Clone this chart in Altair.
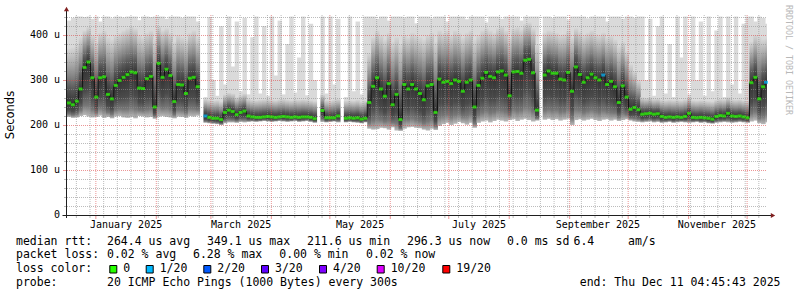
import altair as alt
import pandas as pd

# ---------------- data ----------------
END = pd.Timestamp("2025-12-11T04:45:43", tz="UTC")
START = END - pd.Timedelta(days=359)
BIN = pd.Timedelta(days=2)

median = [
    249, 245, 253, 280, 328, 340, 305, 262, 305, 307,
    268, 258, 288, 299, 306, 312, 318, 316, 282, 281,
    303, 308, 240, 337, 306, 324, 310, 252, 290, 289,
    270, 304, 306, 285, None, 220, 217, 215, 215, 212,
    228, 233, 230, 223, 228, 231, 220, 218, 217, 217,
    218, 219, 218, 217, 218, 219, 218, 217, 218, 217,
    218, 218, 217, 214, None, 232, 216, 216, 216, 220,
    None, 215, 216, 215, 216, 213, 215, 250, 286, 305,
    280, 264, 292, 245, 268, 212, 290, 280, 290, 280,
    270, 256, 287, 290, 228, 302, 295, 297, 292, 300,
    297, 275, 295, 300, 240, 288, 304, 317, 308, 305,
    318, 320, 311, 265, 318, 319, 315, 344, 346, 316,
    233, None, 311, 320, 315, 315, 302, 300, 317, 275,
    329, 312, 295, 305, 313, 305, 300, 311, 290, 297,
    285, 250, 287, 262, 235, 239, 234, 224, 225, 226,
    224, 225, 219, 217, 218, 217, 218, 217, 219, 226,
    217, 216, 217, 216, 215, 213, 219, 221, 220, 226,
    220, 219, 220, 218, 216, 294, 306, 258, 285, 295,
]
smoke_bottom = [
    218, 216, 217, 220, 222, 219, 217, 218, 221, 216,
    218, 215, 219, 220, 217, 216, 218, 215, 220, 219,
    217, 218, 214, 219, 220, 218, 217, 215, 219, 218,
    216, 220, 219, 221, None, 205, 204, 203, 202, 200,
    204, 206, 206, 205, 207, 206, 207, 208, 207, 208,
    209, 208, 207, 208, 209, 208, 207, 208, 209, 207,
    208, 209, 207, 205, None, 207, 206, 207, 208, 206,
    None, 206, 207, 206, 205, 204, 206, 192, 190, 191,
    194, 193, 190, 195, 188, 187, 192, 195, 196, 194,
    193, 190, 188, 192, 189, 198, 202, 205, 200, 203,
    207, 204, 201, 205, 194, 205, 208, 210, 206, 209,
    212, 210, 208, 211, 213, 209, 212, 214, 211, 208,
    210, None, 212, 214, 211, 213, 210, 212, 214, 200,
    211, 213, 210, 212, 214, 211, 209, 212, 213, 210,
    212, 209, 211, 213, 210, 208, 207, 206, 207, 208,
    206, 207, 205, 206, 207, 205, 206, 207, 206, 205,
    206, 207, 205, 206, 204, 203, 205, 206, 207, 206,
    205, 206, 207, 206, 205, 208, 210, 204, 202, 206,
]
smoke_mid = [
    370, 372, 380, 395, 410, 418, 400, 385, 405, 410,
    395, 390, 400, 405, 410, 415, 420, 415, 400, 395,
    405, 410, 390, 420, 410, 415, 405, 385, 400, 395,
    390, 405, 410, 395, None, 258, 256, 254, 255, 252,
    268, 272, 270, 262, 266, 270, 258, 256, 255, 256,
    257, 258, 256, 255, 257, 258, 256, 255, 257, 256,
    257, 256, 255, 253, None, 268, 255, 254, 256, 258,
    None, 254, 255, 254, 256, 252, 255, 360, 395, 410,
    400, 390, 405, 385, 395, 380, 400, 395, 405, 400,
    395, 390, 400, 405, 385, 410, 405, 410, 400, 410,
    405, 395, 405, 410, 390, 400, 410, 415, 410, 405,
    415, 420, 410, 395, 415, 418, 412, 425, 428, 415,
    380, None, 405, 410, 408, 405, 400, 402, 410, 395,
    415, 408, 400, 405, 410, 402, 400, 405, 395, 398,
    390, 375, 385, 365, 335, 320, 300, 262, 260, 262,
    258, 259, 256, 255, 256, 255, 256, 255, 257, 262,
    255, 254, 255, 254, 253, 252, 256, 258, 257, 262,
    257, 256, 257, 255, 254, 385, 400, 395, 390, 392,
]
smoke_top = [
    432, 438, 441, 441, 440, 441, 436, 441, 430, 441,
    441, 437, 441, 441, 439, 441, 441, 441, 433, 441,
    441, 440, 441, 441, 441, 436, 441, 441, 441, 438,
    441, 441, 441, 430, None, 262, 440, 300, 265, 420,
    290, 441, 330, 430, 275, 438, 268, 395, 441, 270,
    420, 265, 441, 310, 432, 268, 380, 441, 272, 350,
    441, 266, 425, 300, None, 441, 270, 441, 290, 436,
    None, 262, 441, 275, 430, 268, 441, 441, 441, 436,
    441, 441, 432, 441, 441, 441, 438, 441, 441, 426,
    441, 441, 441, 437, 441, 441, 441, 430, 441, 441,
    441, 441, 435, 441, 441, 441, 441, 428, 441, 441,
    441, 436, 441, 441, 441, 441, 432, 441, 441, 441,
    441, None, 441, 441, 438, 441, 441, 441, 433, 441,
    441, 441, 441, 437, 441, 441, 441, 441, 430, 441,
    441, 441, 436, 441, 441, 438, 441, 441, 300, 436,
    265, 420, 441, 270, 380, 262, 441, 350, 441, 268,
    441, 300, 430, 265, 441, 275, 410, 441, 262, 441,
    290, 441, 270, 425, 441, 441, 430, 441, 438, 425,
]
loss_of_bin = {35: "1/20", 137: "1/20", 179: "1/20"}

y_tick_values = [0, 100, 200, 300, 400]
y_tick_labels = ["0", "100 u", "200 u", "300 u", "400 u"]

month_labels = ["January 2025", "March 2025", "May 2025",
                "July 2025", "September 2025", "November 2025"]
month_label_dates = ["2025-01-16T12:00:00", "2025-03-16T12:00:00", "2025-05-16T12:00:00",
                     "2025-07-16T12:00:00", "2025-09-15T12:00:00", "2025-11-15T12:00:00"]

loss_labels = ["0", "1/20", "2/20", "3/20", "4/20", "10/20", "19/20"]
loss_colors = ["#26ff00", "#00b8ff", "#0059ff", "#5e00ff", "#7e00ff", "#dd00ff", "#ff0000"]

stats_rtt = ["median rtt:", "264.4 us avg", "349.1 us max", "211.6 us min",
             "296.3 us now", "0.0 ms sd", "6.4", "am/s"]
stats_loss = ["packet loss:", "0.02 % avg", "6.28 % max", "0.00 % min", "0.02 % now"]
probe_text = ["probe:", "20 ICMP Echo Pings (1000 Bytes) every 300s"]
end_text = "end: Thu Dec 11 04:45:43 2025"
watermark = "RRDTOOL / TOBI OETIKER"

# ---------------- build tables ----------------
def ms(ts):
    return int(ts.value // 10**6)

OVERLAP = pd.Timedelta(hours=6)   # hides anti-aliasing seams between columns
rows = []
for i, m in enumerate(median):
    if m is None:
        continue
    s = START + i * BIN
    e = min(START + (i + 1) * BIN, END)
    e_draw = min(e + OVERLAP, END)
    rows.append(dict(s=ms(s), e=ms(e_draw), c=ms(s + (e - s) / 2), med=m,
                     bottom=smoke_bottom[i], mid=smoke_mid[i], top=smoke_top[i],
                     loss=loss_of_bin.get(i, "0")))
df = pd.DataFrame(rows)

conn = []
for i in range(1, len(median)):
    if median[i] is None or median[i - 1] is None:
        continue
    conn.append(dict(x=ms(START + i * BIN), y=median[i - 1], y2=median[i]))
df_conn = pd.DataFrame(conn)

df_months = pd.DataFrame({
    "d": [ms(pd.Timestamp(d, tz="UTC")) for d in month_label_dates],
    "label": month_labels,
})
df_ylab = pd.DataFrame({"v": y_tick_values, "label": y_tick_labels})

# grid positions: month starts (major) and weekly Sundays (minor); 20-unit minor, 100-unit major
majors = pd.date_range(pd.Timestamp("2025-01-01", tz="UTC"),
                       pd.Timestamp("2025-12-01", tz="UTC"), freq="MS")
minors = pd.date_range(pd.Timestamp("2024-12-22", tz="UTC"), END, freq="7D")
x_major = [ms(t) for t in majors]
x_minor = [ms(t) for t in minors if ms(t) not in set(x_major)]
y_major = [v for v in range(100, 441, 100)]
y_minor = [v for v in range(20, 441, 20) if v % 100 != 0]

MINOR = "rgba(143,143,143,0.6)"
MAJOR = "rgba(222,79,79,0.6)"
MONO = "DejaVu Sans Mono"

xs = alt.Scale(type="utc", domain=[ms(START), ms(END)])
ys = alt.Scale(domain=[0, 200 / 0.45], nice=False, zero=True)

upper_grad = {"gradient": "linear", "x1": 0, "x2": 0, "y1": 0, "y2": 1,
              "stops": [{"offset": 0, "color": "#d6d6d6"},
                        {"offset": 0.25, "color": "#b0b0b0"},
                        {"offset": 0.5, "color": "#858585"},
                        {"offset": 0.75, "color": "#555555"},
                        {"offset": 1, "color": "#333333"}]}
lower_grad = {"gradient": "linear", "x1": 0, "x2": 0, "y1": 0, "y2": 1,
              "stops": [{"offset": 0, "color": "#333333"},
                        {"offset": 0.5, "color": "#4a4a4a"},
                        {"offset": 0.8, "color": "#777777"},
                        {"offset": 1, "color": "#b8b8b8"}]}

base = alt.Chart(df)

light = base.mark_rect(color="#dadada", clip=True).encode(
    x=alt.X("s:T", scale=xs, axis=None), x2="e:T",
    y=alt.Y("bottom:Q", scale=ys, axis=None), y2="top:Q",
)
upper = base.mark_rect(color=upper_grad, clip=True).encode(
    x=alt.X("s:T", scale=xs, axis=None), x2="e:T",
    y=alt.Y("med:Q", scale=ys, axis=None), y2="mid:Q",
)
lower = base.mark_rect(color=lower_grad, clip=True).encode(
    x=alt.X("s:T", scale=xs, axis=None), x2="e:T",
    y=alt.Y("bottom:Q", scale=ys, axis=None), y2="med:Q",
)

def hgrid(vals, color):
    return alt.Chart(pd.DataFrame({"v": vals})).mark_rule(
        color=color, strokeWidth=1, strokeDash=[1, 1], yOffset=0.5).encode(
        y=alt.Y("v:Q", scale=ys, axis=None), x=alt.value(0), x2=alt.value(700))

def hticks(vals, color, length):
    return alt.Chart(pd.DataFrame({"v": vals})).mark_rule(
        color=color, strokeWidth=1, yOffset=0.5).encode(
        y=alt.Y("v:Q", scale=ys, axis=None), x=alt.value(-1 - length), x2=alt.value(-1))

def vgrid(vals, color):
    return alt.Chart(pd.DataFrame({"v": vals})).mark_rule(
        color=color, strokeWidth=1, strokeDash=[1, 1]).encode(
        x=alt.X("v:T", scale=xs, axis=None), y=alt.value(0), y2=alt.value(200))

def vticks(vals, color, length):
    return alt.Chart(pd.DataFrame({"v": vals})).mark_rule(
        color=color, strokeWidth=1).encode(
        x=alt.X("v:T", scale=xs, axis=None), y=alt.value(201), y2=alt.value(201 + length))

grids = [hgrid(y_minor, MINOR), vgrid(x_minor, MINOR),
         hgrid(y_major, MAJOR), vgrid(x_major, MAJOR),
         vticks(x_minor, MINOR, 2), vticks(x_major, MAJOR, 3),
         hticks(y_minor, MINOR, 2), hticks(y_major, MAJOR, 3)]

connectors = alt.Chart(df_conn).mark_rule(color="#111111", strokeWidth=1).encode(
    x=alt.X("x:T", scale=xs, axis=None),
    y=alt.Y("y:Q", scale=ys, axis=None), y2="y2:Q",
)
med = base.mark_tick(orient="horizontal", size=4, thickness=3).encode(
    x=alt.X("c:T", scale=xs, axis=None),
    y=alt.Y("med:Q", scale=ys, axis=None),
    color=alt.Color("loss:N", scale=alt.Scale(domain=loss_labels, range=loss_colors), legend=None),
)
months = alt.Chart(df_months).mark_text(font=MONO, fontSize=10, color="black",
                                         align="center", baseline="middle").encode(
    x=alt.X("d:T", scale=xs, axis=None), y=alt.value(210), text="label:N",
)
ylabels = alt.Chart(df_ylab).mark_text(font=MONO, fontSize=10, color="black",
                                        align="right", baseline="middle").encode(
    y=alt.Y("v:Q", scale=ys, axis=None), x=alt.value(-7), text="label:N",
)

dummy = pd.DataFrame({"k": [0]})

def txt(x, y, s, align="left", size=11.5, color="black", angle=0, font=MONO):
    return alt.Chart(dummy).mark_text(align=align, baseline="middle", font=font,
                                      fontSize=size, color=color, angle=angle).encode(
        x=alt.value(x), y=alt.value(y), text=alt.value(s))

deco = [
    alt.Chart(dummy).mark_rule(color="#1f1f1f", strokeWidth=1).encode(
        x=alt.value(-4.5), x2=alt.value(704), y=alt.value(200.5)),
    alt.Chart(dummy).mark_rule(color="#1f1f1f", strokeWidth=1).encode(
        x=alt.value(-0.5), y=alt.value(203), y2=alt.value(-5)),
    alt.Chart(dummy).mark_point(shape="triangle-up", filled=True, size=26, color="#801f1f",
                                opacity=1).encode(x=alt.value(-0.5), y=alt.value(-6)),
    alt.Chart(dummy).mark_point(shape="triangle-right", filled=True, size=26, color="#801f1f",
                                opacity=1).encode(x=alt.value(706), y=alt.value(200.5)),
    txt(-56, 100, "Seconds", align="center", size=11.5, angle=270, font="DejaVu Sans"),
]

texts = []
row1_x = [-51, 40, 140, 240, 340, 440, 506.5, 561]
for xx, s in zip(row1_x, stats_rtt):
    texts.append(txt(xx, 226.7, s))
row2_x = [-51, 40, 126, 212.3, 299]
for xx, s in zip(row2_x, stats_loss):
    texts.append(txt(xx, 240, s))
texts.append(txt(-51, 254.3, "loss color:"))
box_x = [42.3, 78.7, 136.3, 194, 252, 309.7, 375.3]
for bx, lab, col in zip(box_x, loss_labels, loss_colors):
    texts.append(alt.Chart(dummy).mark_rect(fill=col, stroke="black", strokeWidth=1).encode(
        x=alt.value(bx + 0.5), x2=alt.value(bx + 7.5), y=alt.value(250.5), y2=alt.value(258)))
    texts.append(txt(bx + 14, 254.3, lab))
texts.append(txt(-51, 267.7, probe_text[0]))
texts.append(txt(40, 267.7, probe_text[1]))
texts.append(txt(713.5, 267.7, end_text, align="right"))
texts.append(txt(721, 45, watermark, align="center", size=8.3, color="#b8b8b8", angle=90))

chart = alt.layer(light, upper, lower, *grids, connectors, med, months, ylabels,
                  *deco, *texts).properties(
    width=700, height=200,
    padding={"left": 67, "top": 15, "right": 30, "bottom": 82},
    autosize=alt.AutoSizeParams(type="none"),
).configure(background="white").configure_view(stroke=None)

chart.save("out.html", embed_options={"renderer": "svg", "actions": False})
